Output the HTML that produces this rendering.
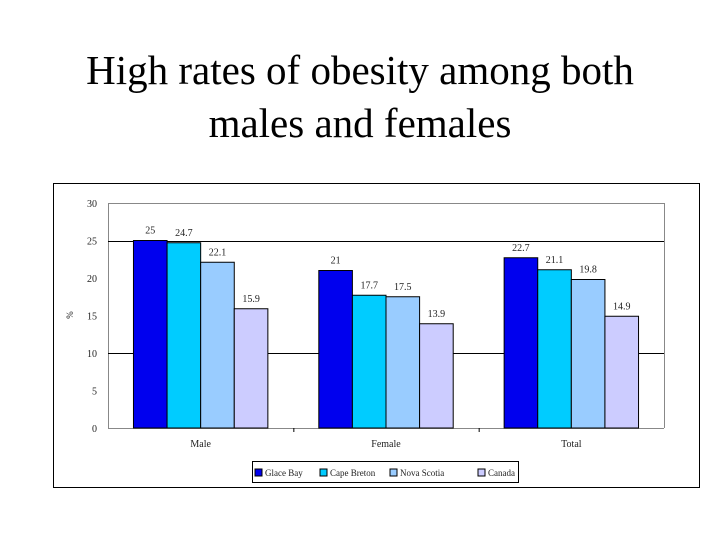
<!DOCTYPE html>
<html><head><meta charset="utf-8"><style>
body{margin:0;width:720px;height:540px;background:#fff;overflow:hidden}
svg{position:absolute;left:0;top:0}
</style></head><body>
<svg width="720" height="540">
<text x="360" y="84" text-anchor="middle" font-family="Liberation Serif, serif" font-size="41">High rates of obesity among both</text>
<text x="360" y="137" text-anchor="middle" font-family="Liberation Serif, serif" font-size="41">males and females</text>
<rect x="53.5" y="183.5" width="646" height="304" fill="none" stroke="#000" stroke-width="1"/>
<g id="plot"></g>
</svg>
<script>
const categories=["Male","Female","Total"];
const series=["Glace Bay","Cape Breton","Nova Scotia","Canada"];
const colors=["#0000ee","#00ccff","#99ccff","#ccccff"];
const glaceBay=[25,21,22.7];
const capeBreton=[24.7,17.7,21.1];
const novaScotia=[22.1,17.5,19.8];
const canada=[15.9,13.9,14.9];
const yTicks=[0,5,10,15,20,25,30];
const gridValues=[25,10];
const values=[glaceBay,capeBreton,novaScotia,canada];
const NS="http://www.w3.org/2000/svg";
const g=document.getElementById('plot');
const X0=108,X1=664,Y0=428,Y1=203,YMAX=30;
const y=v=>Y0-(v/YMAX)*(Y0-Y1);
const gw=(X1-X0)/categories.length, bw=33.6, pad=(gw-4*bw)/2;
function el(t,a){const e=document.createElementNS(NS,t);for(const k in a)e.setAttribute(k,a[k]);g.appendChild(e);return e;}
let e;
e=el('path',{d:`M${X0+.5},${Y0}V${Y1+.5}H${X1+.5}V${Y0}`,fill:'none',stroke:'#888'});


e=el('line',{x1:X0,x2:X1,y1:Y0+.5,y2:Y0+.5,stroke:'#888'});


gridValues.forEach(v=>{
  e=el('line',{x1:X0,x2:X1,y1:Math.round(y(v))+.5,y2:Math.round(y(v))+.5,stroke:'#000'});
  
  
});
yTicks.forEach(v=>{
  e=el('text',{x:97,y:y(v)+4,'text-anchor':'end','font-family':'Liberation Serif, serif','font-size':'10',fill:'#222'});
  e.textContent=v;
  
  
});
e=el('text',{x:70,y:318,'text-anchor':'middle','font-family':'Liberation Serif, serif','font-size':'9',transform:'rotate(-90 70 315)'});
e.textContent='%';


categories.forEach((c,i)=>{
  const gx=X0+i*gw;
  if(i>0){e=el('line',{x1:gx+.5,x2:gx+.5,y1:Y0,y2:Y0+4,stroke:'#000'});
    
    }
  e=el('text',{x:gx+gw/2,y:447,'text-anchor':'middle','font-family':'Liberation Serif, serif','font-size':'10',fill:'#222'});
  e.textContent=c;
  
  
  values.forEach((s,j)=>{
    const bx=gx+pad+j*bw, v=s[i];
    e=el('rect',{x:bx,y:y(v),width:bw,height:Y0-y(v),fill:colors[j],stroke:'#000','stroke-width':1});
    
    
    e=el('text',{x:bx+bw/2,y:y(v)-7,'text-anchor':'middle','font-family':'Liberation Serif, serif','font-size':'10',fill:'#222'});
    e.textContent=v;
    
    
  });
});
e=el('rect',{x:252.5,y:461.5,width:266,height:21,fill:'#fff',stroke:'#000'});


const lx=[255,320,390,478];
series.forEach((s,j)=>{
  e=el('rect',{x:lx[j],y:469,width:7,height:7,fill:colors[j],stroke:'#000'});
  
  
  e=el('text',{x:lx[j]+10,y:476,'font-family':'Liberation Serif, serif','font-size':'9',fill:'#222'});
  e.textContent=s;
  
  
});
</script>
</body></html>
